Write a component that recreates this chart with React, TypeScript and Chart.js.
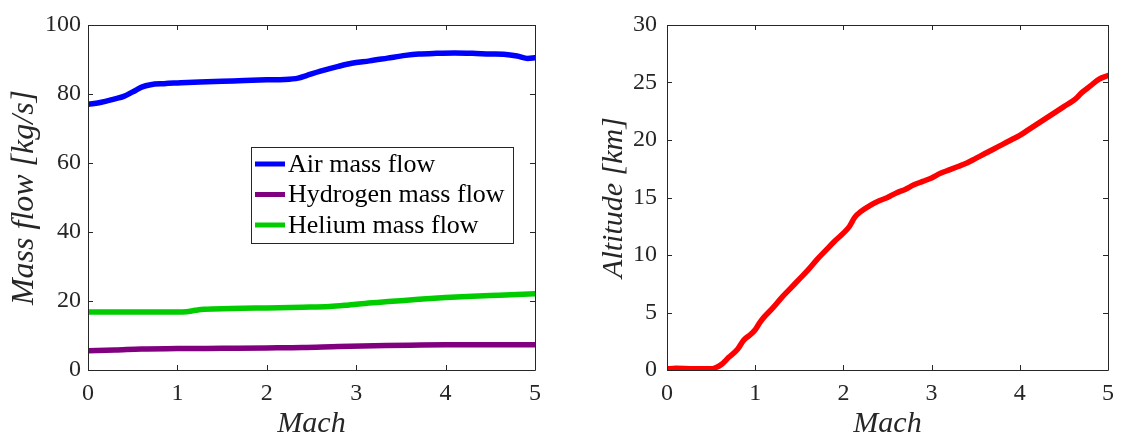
import React, { useEffect, useRef } from "react";
import { Chart, registerables } from "chart.js";

Chart.register(...registerables);

// ---- Data ----
const airMach = [0, 0.15, 0.3, 0.4, 0.5, 0.6, 0.7, 0.85, 1.0, 1.25, 1.5, 1.75, 2.0, 2.2, 2.35, 2.45, 2.6, 2.8, 2.95, 3.15, 3.35, 3.55, 3.7, 3.9, 4.1, 4.3, 4.5, 4.65, 4.8, 4.92, 5.0];
const airFlow = [77.0, 77.6, 78.6, 79.3, 80.6, 82.0, 82.7, 83.0, 83.2, 83.5, 83.7, 83.9, 84.1, 84.2, 84.6, 85.4, 86.6, 88.0, 88.9, 89.6, 90.4, 91.2, 91.6, 91.8, 91.9, 91.8, 91.6, 91.5, 91.0, 90.3, 90.5];

const h2Mach = [0, 0.3, 0.6, 1.0, 1.5, 2.0, 2.4, 2.8, 3.2, 3.6, 4.0, 4.5, 5.0];
const h2Flow = [5.6, 5.8, 6.1, 6.2, 6.3, 6.4, 6.5, 6.8, 7.0, 7.2, 7.3, 7.3, 7.3];

const heMach = [0, 0.5, 1.0, 1.1, 1.2, 1.3, 1.6, 2.0, 2.4, 2.7, 2.9, 3.1, 3.4, 3.7, 4.0, 4.3, 4.6, 5.0];
const heFlow = [16.8, 16.8, 16.8, 16.9, 17.3, 17.6, 17.8, 18.0, 18.2, 18.4, 18.8, 19.3, 19.9, 20.5, 21.0, 21.4, 21.7, 22.1];

const altMach = [0, 0.1, 0.3, 0.5, 0.55, 0.62, 0.7, 0.8, 0.87, 0.95, 1.0, 1.05, 1.1, 1.2, 1.3, 1.4, 1.5, 1.6, 1.7, 1.8, 1.9, 2.0, 2.07, 2.13, 2.2, 2.3, 2.4, 2.5, 2.6, 2.7, 2.8, 2.9, 3.0, 3.1, 3.2, 3.3, 3.4, 3.5, 3.6, 3.7, 3.8, 3.9, 4.0, 4.1, 4.2, 4.3, 4.4, 4.5, 4.6, 4.65, 4.7, 4.8, 4.9, 5.0];
const altitude = [0.1, 0.15, 0.1, 0.1, 0.2, 0.5, 1.1, 1.8, 2.6, 3.1, 3.5, 4.1, 4.6, 5.4, 6.3, 7.1, 7.9, 8.7, 9.6, 10.4, 11.2, 11.9, 12.5, 13.3, 13.8, 14.3, 14.7, 15.0, 15.4, 15.7, 16.1, 16.4, 16.7, 17.1, 17.4, 17.7, 18.0, 18.4, 18.8, 19.2, 19.6, 20.0, 20.4, 20.9, 21.4, 21.9, 22.4, 22.9, 23.4, 23.7, 24.1, 24.7, 25.3, 25.6];

const seriesLabels = ["Air mass flow", "Hydrogen mass flow", "Helium mass flow"];
const seriesColors = ["rgb(0,0,255)", "rgb(128,0,128)", "rgb(0,204,0)"];
const altColor = "rgb(255,0,0)";

const xTicks = [0, 1, 2, 3, 4, 5];

const TEXT = "#262626";
const FONT = "'Liberation Serif', 'DejaVu Serif', serif";

Chart.defaults.font.family = FONT;

const toXY = (xs: number[], ys: number[]) => xs.map((x, i) => ({ x, y: ys[i] }));

// frame + inward ticks (MATLAB box style)
const boxPlugin = {
  id: "boxTicks",
  afterDraw(chart: any) {
    const { ctx, chartArea } = chart;
    const { left, right, top, bottom } = chartArea;
    const xs = chart.scales.x;
    const ys = chart.scales.y;
    const tl = 5;
    ctx.save();
    ctx.strokeStyle = TEXT;
    ctx.lineWidth = 1;
    ctx.beginPath();
    ctx.rect(Math.round(left) + 0.5, Math.round(top) + 0.5, Math.round(right - left), Math.round(bottom - top));
    ctx.stroke();
    ctx.beginPath();
    xs.ticks.forEach((t: any) => {
      const px = Math.round(xs.getPixelForValue(t.value)) + 0.5;
      ctx.moveTo(px, bottom);
      ctx.lineTo(px, bottom - tl);
      ctx.moveTo(px, top);
      ctx.lineTo(px, top + tl);
    });
    ys.ticks.forEach((t: any) => {
      const py = Math.round(ys.getPixelForValue(t.value)) + 0.5;
      ctx.moveTo(left, py);
      ctx.lineTo(left + tl, py);
      ctx.moveTo(right, py);
      ctx.lineTo(right - tl, py);
    });
    ctx.stroke();
    ctx.restore();
  },
};

const legendPlugin = {
  id: "boxLegend",
  afterDraw(chart: any) {
    if (!chart.options.plugins.boxLegend || !chart.options.plugins.boxLegend.show) return;
    const { ctx } = chart;
    const bx = 251, by = 147, bw = 262, bh = 96;
    ctx.save();
    ctx.fillStyle = "#ffffff";
    ctx.fillRect(bx, by, bw, bh);
    ctx.strokeStyle = TEXT;
    ctx.lineWidth = 1;
    ctx.strokeRect(bx + 0.5, by + 0.5, bw, bh);
    const rows = [164, 194.5, 225];
    chart.data.datasets.forEach((ds: any, i: number) => {
      const y = rows[i];
      ctx.strokeStyle = ds.borderColor;
      ctx.lineWidth = 5;
      ctx.beginPath();
      ctx.moveTo(255, y);
      ctx.lineTo(285, y);
      ctx.stroke();
      ctx.fillStyle = "#000000";
      ctx.font = `26px ${FONT}`;
      ctx.textBaseline = "middle";
      ctx.textAlign = "left";
      ctx.fillText(ds.label, 288, y + 1);
    });
    ctx.restore();
  },
};

function makeOptions(yMax: number, yStep: number, yTitle: string, yTitleSize: number, yWidth: number, yPad: number, yTitlePad: number, padRight: number, showLegend: boolean): any {
  return {
    responsive: false,
    animation: false,
    layout: { padding: { left: 0, top: 25, right: padRight, bottom: 0 } },
    elements: { point: { radius: 0 }, line: { borderWidth: 5.5, cubicInterpolationMode: "monotone", borderCapStyle: "round", borderJoinStyle: "round" } },
    plugins: {
      legend: { display: false },
      tooltip: { enabled: false },
      boxLegend: { show: showLegend },
    },
    scales: {
      x: {
        type: "linear",
        min: 0,
        max: 5,
        afterBuildTicks: (s: any) => { s.ticks = xTicks.map((v) => ({ value: v })); },
        afterFit: (s: any) => { s.height = 65; },
        grid: { display: false, drawTicks: false },
        border: { display: false },
        ticks: { color: TEXT, font: { family: FONT, size: 24 }, padding: 9, maxRotation: 0, autoSkip: false },
        title: { display: true, text: "Mach", color: TEXT, font: { family: FONT, size: 30, style: "italic", lineHeight: 0.75 }, padding: 0 },
      },
      y: {
        type: "linear",
        min: 0,
        max: yMax,
        ticks: { stepSize: yStep, color: TEXT, font: { family: FONT, size: 24 }, padding: yPad },
        afterFit: (s: any) => { s.width = yWidth; },
        grid: { display: false, drawTicks: false },
        border: { display: false },
        title: { display: true, text: yTitle, color: TEXT, font: { family: FONT, size: yTitleSize, style: "italic", lineHeight: 1 }, padding: { top: yTitlePad, bottom: 0 } },
      },
    },
  };
}

export default function App() {
  const leftRef = useRef<HTMLCanvasElement>(null);
  const rightRef = useRef<HTMLCanvasElement>(null);

  useEffect(() => {
    const c1 = new Chart(leftRef.current as HTMLCanvasElement, {
      type: "line",
      data: {
        datasets: [
          { label: seriesLabels[0], data: toXY(airMach, airFlow), borderColor: seriesColors[0], backgroundColor: seriesColors[0] },
          { label: seriesLabels[1], data: toXY(h2Mach, h2Flow), borderColor: seriesColors[1], backgroundColor: seriesColors[1] },
          { label: seriesLabels[2], data: toXY(heMach, heFlow), borderColor: seriesColors[2], backgroundColor: seriesColors[2] },
        ],
      },
      options: makeOptions(100, 20, "Mass flow [kg/s]", 32, 88, 7, 9, 25, true),
      plugins: [boxPlugin, legendPlugin],
    } as any);
    const c2 = new Chart(rightRef.current as HTMLCanvasElement, {
      type: "line",
      data: {
        datasets: [
          { label: "Altitude", data: toXY(altMach, altitude), borderColor: altColor, backgroundColor: altColor },
        ],
      },
      options: makeOptions(30, 5, "Altitude [km]", 30, 107, 10, 39, 8, false),
      plugins: [boxPlugin],
    } as any);
    return () => {
      c1.destroy();
      c2.destroy();
    };
  }, []);

  return (
    <div style={{ position: "absolute", left: 0, top: 0, width: 1123, height: 435, background: "#ffffff" }}>
      <canvas ref={leftRef} width={560} height={435} style={{ position: "absolute", left: 0, top: 0, width: 560, height: 435 }} />
      <canvas ref={rightRef} width={563} height={435} style={{ position: "absolute", left: 560, top: 0, width: 563, height: 435 }} />
    </div>
  );
}
